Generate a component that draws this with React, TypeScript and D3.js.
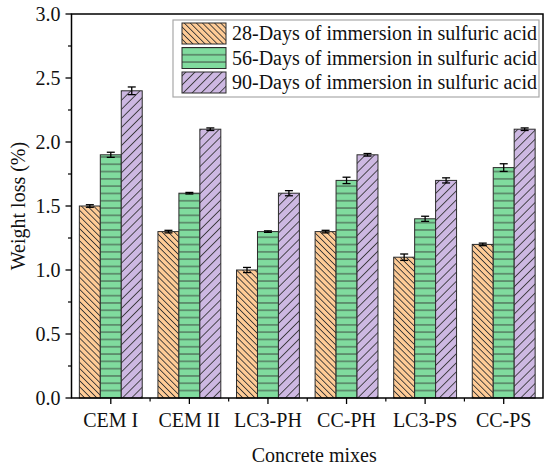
import React, { useEffect, useRef } from "react";
import * as d3 from "d3";

const categories = ["CEM I", "CEM II", "LC3-PH", "CC-PH", "LC3-PS", "CC-PS"];
const seriesNames = [
  "28-Days of immersion in sulfuric acid",
  "56-Days of immersion in sulfuric acid",
  "90-Days of immersion in sulfuric acid",
];
const days28 = [1.5, 1.3, 1.0, 1.3, 1.1, 1.2];
const days56 = [1.9, 1.6, 1.3, 1.7, 1.4, 1.8];
const days90 = [2.4, 2.1, 1.6, 1.9, 1.7, 2.1];
const err28 = [0.01, 0.01, 0.02, 0.01, 0.025, 0.01];
const err56 = [0.02, 0.006, 0.006, 0.025, 0.02, 0.03];
const err90 = [0.03, 0.01, 0.02, 0.01, 0.02, 0.01];
const yTicks = [0, 0.5, 1.0, 1.5, 2.0, 2.5, 3.0];
const yMinorTicks = [0.25, 0.75, 1.25, 1.75, 2.25, 2.75];

const fills = ["#FECB96", "#80DB9E", "#CDB8E2"];
const patternIds = ["hatchBack", "hatchHoriz", "hatchFwd"];

const W = 550;
const H = 468;
const M = { left: 71.5, right: 543, top: 14, bottom: 398 };
const FONT = "'Liberation Serif', 'Times New Roman', serif";
const FS = 20;

export default function App() {
  const ref = useRef<SVGSVGElement | null>(null);

  useEffect(() => {
    document.body.style.margin = "0";
    const svg = d3.select(ref.current);
    svg.selectAll("*").remove();

    const defs = svg.append("defs");
    const mk = (id: string, size: number, angle: number, fill: string) => {
      const p = defs
        .append("pattern")
        .attr("id", id)
        .attr("patternUnits", "userSpaceOnUse")
        .attr("width", size)
        .attr("height", size)
        .attr("patternTransform", `rotate(${angle})`);
      p.append("rect").attr("width", size).attr("height", size).attr("fill", fill);
      p.append("line")
        .attr("x1", 0)
        .attr("x2", size)
        .attr("y1", size / 2)
        .attr("y2", size / 2)
        .attr("stroke", "#333")
        .attr("stroke-width", 0.85);
    };
    mk(patternIds[0], 4.3, 45, fills[0]);
    mk(patternIds[1], 7.3, 0, fills[1]);
    mk(patternIds[2], 6.4, -45, fills[2]);

    const x0 = d3
      .scaleBand<string>()
      .domain(categories)
      .range([M.left, M.right])
      .paddingInner(0.2)
      .paddingOuter(0.1);
    const x1 = d3
      .scaleBand<number>()
      .domain([0, 1, 2])
      .range([0, x0.bandwidth()]);
    const y = d3.scaleLinear().domain([0, 3]).range([M.bottom, M.top]);

    const values = [days28, days56, days90];
    const errs = [err28, err56, err90];

    const g = svg.append("g");
    values.forEach((vals, s) => {
      g.selectAll(`.bar${s}`)
        .data(categories)
        .enter()
        .append("rect")
        .attr("x", (c) => (x0(c) as number) + (x1(s) as number))
        .attr("y", (c, i) => y(vals[i]))
        .attr("width", x1.bandwidth())
        .attr("height", (c, i) => y(0) - y(vals[i]))
        .attr("fill", `url(#${patternIds[s]})`)
        .attr("stroke", "#2b2b2b")
        .attr("stroke-width", 1);
    });
    values.forEach((vals, s) => {
      categories.forEach((c, i) => {
        const cx = (x0(c) as number) + (x1(s) as number) + x1.bandwidth() / 2;
        const top = y(vals[i] + errs[s][i]);
        const bot = y(vals[i] - errs[s][i]);
        const cw = 4;
        g.append("line").attr("x1", cx).attr("x2", cx).attr("y1", top).attr("y2", bot).attr("stroke", "#000").attr("stroke-width", 1.3);
        g.append("line").attr("x1", cx - cw).attr("x2", cx + cw).attr("y1", top).attr("y2", top).attr("stroke", "#000").attr("stroke-width", 1.3);
        g.append("line").attr("x1", cx - cw).attr("x2", cx + cw).attr("y1", bot).attr("y2", bot).attr("stroke", "#000").attr("stroke-width", 1.3);
      });
    });

    svg
      .append("rect")
      .attr("x", M.left)
      .attr("y", M.top)
      .attr("width", M.right - M.left)
      .attr("height", M.bottom - M.top)
      .attr("fill", "none")
      .attr("stroke", "#000")
      .attr("stroke-width", 1.5);

    const ax = svg.append("g");
    yTicks.forEach((t) => {
      ax.append("line").attr("x1", M.left - 6).attr("x2", M.left).attr("y1", y(t)).attr("y2", y(t)).attr("stroke", "#000").attr("stroke-width", 1.3);
      ax.append("text")
        .attr("x", M.left - 11)
        .attr("y", y(t))
        .attr("dy", "0.34em")
        .attr("text-anchor", "end")
        .attr("font-family", FONT)
        .attr("font-size", FS)
        .attr("fill", "#111")
        .text(d3.format(".1f")(t));
    });
    yMinorTicks.forEach((t) => {
      ax.append("line").attr("x1", M.left - 3.5).attr("x2", M.left).attr("y1", y(t)).attr("y2", y(t)).attr("stroke", "#000").attr("stroke-width", 1.2);
    });
    categories.forEach((c, i) => {
      const cx = (x0(c) as number) + x0.bandwidth() / 2;
      ax.append("line").attr("x1", cx).attr("x2", cx).attr("y1", M.bottom).attr("y2", M.bottom + 6).attr("stroke", "#000").attr("stroke-width", 1.3);
      ax.append("text")
        .attr("x", cx)
        .attr("y", 427)
        .attr("text-anchor", "middle")
        .attr("font-family", FONT)
        .attr("font-size", FS)
        .attr("fill", "#111")
        .text(c);
      if (i < categories.length - 1) {
        const bx = cx + x0.step() / 2;
        ax.append("line").attr("x1", bx).attr("x2", bx).attr("y1", M.bottom).attr("y2", M.bottom + 3.5).attr("stroke", "#000").attr("stroke-width", 1.2);
      }
    });

    svg
      .append("text")
      .attr("x", (M.left + M.right) / 2 + 7)
      .attr("y", 462)
      .attr("text-anchor", "middle")
      .attr("font-family", FONT)
      .attr("font-size", FS)
      .attr("fill", "#111")
      .text("Concrete mixes");
    svg
      .append("text")
      .attr("transform", `translate(25, ${(M.top + M.bottom) / 2}) rotate(-90)`)
      .attr("text-anchor", "middle")
      .attr("font-family", FONT)
      .attr("font-size", FS)
      .attr("fill", "#111")
      .text("Weight loss (%)");

    const lg = svg.append("g");
    lg.append("rect")
      .attr("x", 173)
      .attr("y", 20)
      .attr("width", 366)
      .attr("height", 77)
      .attr("fill", "#fff")
      .attr("stroke", "#a8a8a8")
      .attr("stroke-width", 1.2);
    const rowY = [23, 47.5, 72];
    seriesNames.forEach((n, s) => {
      lg.append("rect")
        .attr("x", 182)
        .attr("y", rowY[s])
        .attr("width", 44)
        .attr("height", 21)
        .attr("fill", `url(#${patternIds[s]})`)
        .attr("stroke", "#2b2b2b")
        .attr("stroke-width", 1);
      lg.append("text")
        .attr("x", 232)
        .attr("y", rowY[s] + 10.5)
        .attr("dy", "0.34em")
        .attr("font-family", FONT)
        .attr("font-size", FS)
        .attr("fill", "#111")
        .text(n);
    });
  }, []);

  return (
    <svg
      ref={ref}
      width={W}
      height={H}
      style={{ display: "block", position: "absolute", left: 0, top: 0, background: "#fff" }}
    />
  );
}
